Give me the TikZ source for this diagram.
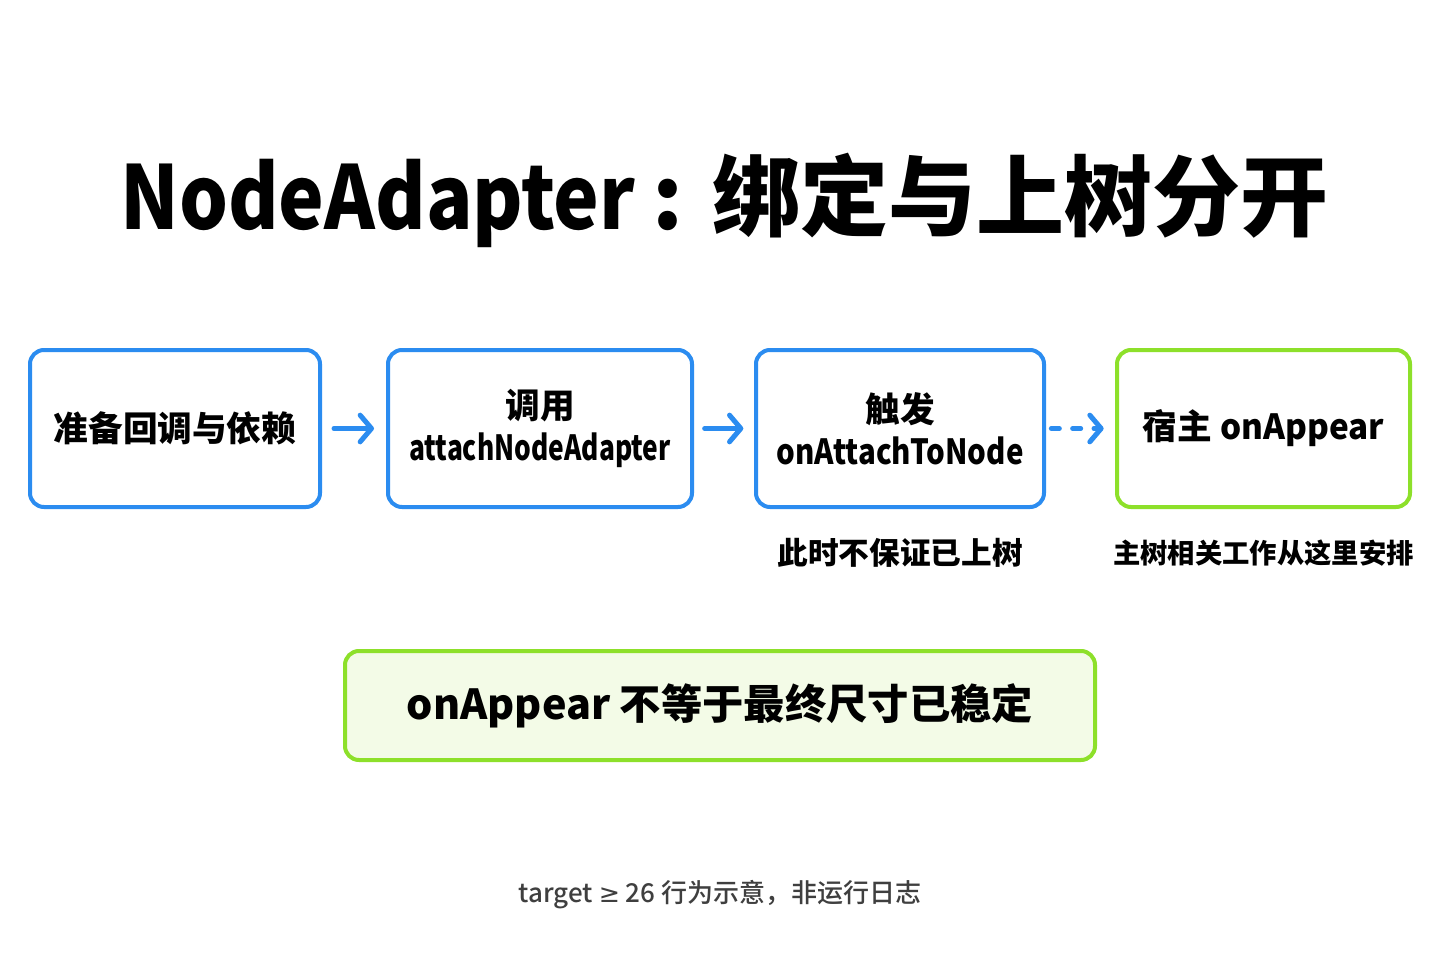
\documentclass[tikz,border=0pt]{standalone}
\usepackage{fontspec}
\usepackage{graphicx}
\setmainfont{Noto Sans CJK SC}
\newfontfamily\footfont{Noto Sans CJK SC}[UprightFont=* Medium]
\newfontfamily\symfont{DejaVu Sans}
\usetikzlibrary{arrows.meta}
\definecolor{flowblue}{HTML}{2B8CF0}
\definecolor{flowgreen}{HTML}{8DE02A}
\definecolor{notefill}{HTML}{F3FBE7}
\definecolor{footgray}{HTML}{3F3F3F}
\tikzset{
  box/.style={draw=flowblue, line width=3pt, rounded corners=10.5pt, fill=white,
    minimum height=117.75pt, align=center, inner sep=0pt,
    font=\fontsize{26pt}{31.5pt}\selectfont\bfseries},
  greenbox/.style={box, draw=flowgreen},
  flow/.style={draw=flowblue, line width=3.75pt, line cap=round,
    -{Straight Barb[length=8.5pt,width=20pt,line width=3.75pt,round]}},
  sublabel/.style={font=\fontsize{23pt}{28pt}\selectfont\bfseries, inner sep=0pt},
}
\begin{document}
\begin{tikzpicture}[x=0.75pt,y=-0.75pt]
\useasboundingbox[fill=white] (0,0) rectangle (1440,960);
\node[font=\fontsize{66pt}{72pt}\selectfont\bfseries, inner sep=0pt, anchor=west] (title) at (120,200)
  {\scalebox{0.875}[1]{NodeAdapter}\hspace{13pt}:\hspace{22pt}绑定与上树分开};
\node[box, minimum width=217.5pt] (b1) at (175,428.5) {准备回调与依赖};
\node[box, minimum width=228pt] (b2) at (540,428.5) {调用\\\scalebox{0.76}[1]{attachNodeAdapter}};
\node[box, minimum width=216pt] (b3) at (900,428.5) {触发\\\scalebox{0.85}[1]{onAttachToNode}};
\node[greenbox, minimum width=219.75pt] (b4) at (1263.5,428.5) {宿主 \scalebox{0.96}[1]{onAppear}};
\draw[flow, shorten <=9pt, shorten >=9pt] (b1.east) -- (b2.west);
\draw[flow, shorten <=8pt, shorten >=8pt] (b2.east) -- (b3.west);
\draw[flow, dash pattern=on 6pt off 10pt, shorten <=4pt, shorten >=8.5pt] (b3.east) -- (b4.west);
\node[sublabel] (l3) at (900,553) {此时不保证已上树};
\node[sublabel, font=\fontsize{20.5pt}{26pt}\selectfont\bfseries] (l4) at (1263.5,553) {主树相关工作从这里安排};
\node[draw=flowgreen, line width=3pt, rounded corners=10.5pt, fill=notefill,
  minimum width=562.5pt, minimum height=81.75pt, inner sep=0pt,
  font=\fontsize{31pt}{36pt}\selectfont\bfseries] (note) at (720,705.5) {onAppear 不等于最终尺寸已稳定};
\node[text=footgray, font=\fontsize{19.5pt}{24pt}\footfont, inner sep=0pt] (foot) at (720,895)
  {target {\symfont\fontsize{19pt}{20pt}\selectfont ≥} 26 行为示意，非运行日志};
\end{tikzpicture}
\end{document}
